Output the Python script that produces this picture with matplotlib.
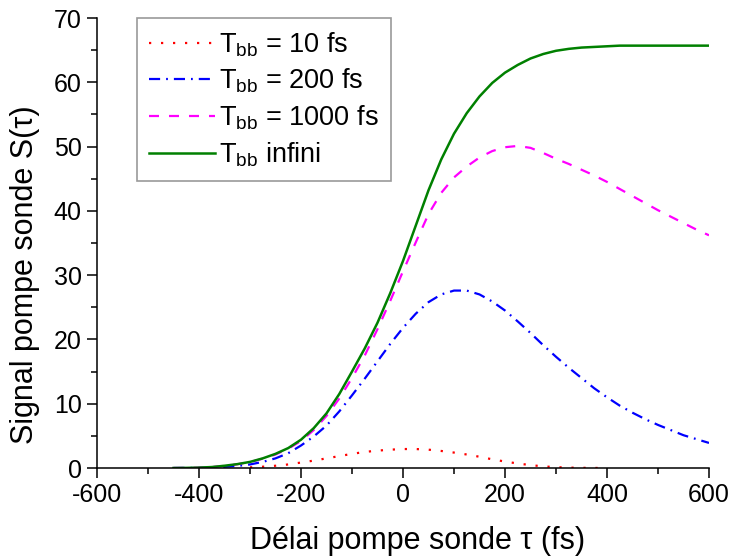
import numpy as np
import matplotlib
matplotlib.use("Agg")
import matplotlib.pyplot as plt
from matplotlib.ticker import MultipleLocator

plt.rcParams['font.family'] = ['Liberation Sans', 'DejaVu Sans']
plt.rcParams['mathtext.fontset'] = 'custom'
plt.rcParams['mathtext.rm'] = 'Liberation Sans'
plt.rcParams['mathtext.it'] = 'Liberation Sans:italic'
plt.rcParams['axes.unicode_minus'] = False

# delai pompe-sonde (fs)
tau = np.arange(-450, 601, 25)
tau_10 = np.arange(-300, 401, 25)

# signal pour T_bb = 10 fs
s_10 = [0.1, 0.2, 0.35, 0.55, 0.85, 1.15, 1.5, 1.85, 2.2, 2.5, 2.7, 2.85,
        2.95, 2.95, 2.85, 2.65, 2.4, 2.1, 1.75, 1.35, 1.0, 0.7, 0.45, 0.25,
        0.13, 0.06, 0.03, 0.01, 0.0]

# T_bb = 200 fs
s_200 = [0.0, 0.01, 0.03, 0.08, 0.18, 0.32, 0.55, 0.95, 1.5, 2.3, 3.5, 4.9,
         6.6, 8.8, 11.3, 13.9, 16.6, 19.3, 21.8, 24.0, 25.8, 27.0, 27.6, 27.6,
         27.0, 25.9, 24.5, 22.8, 21.0, 19.1, 17.3, 15.6, 14.0, 12.4, 11.0,
         9.7, 8.6, 7.6, 6.7, 5.9, 5.1, 4.5, 3.9]

# T_bb = 1000 fs
s_1000 = [0.0, 0.02, 0.06, 0.15, 0.33, 0.58, 0.92, 1.45, 2.1, 3.0, 4.2, 5.9,
          8.1, 10.8, 14.0, 17.5, 21.6, 26.0, 30.6, 35.1, 39.5, 42.8, 45.2,
          46.9, 48.3, 49.3, 49.9, 50.1, 49.8, 49.0, 48.1, 47.3, 46.4, 45.5,
          44.5, 43.4, 42.3, 41.2, 40.1, 39.1, 38.1, 37.1, 36.2]

# T_bb infini
s_inf = [0.0, 0.02, 0.06, 0.15, 0.35, 0.6, 0.95, 1.5, 2.2, 3.1, 4.4, 6.2,
         8.5, 11.5, 15.0, 18.6, 22.6, 27.2, 32.2, 37.7, 43.2, 48.0, 52.0,
         55.2, 57.8, 59.9, 61.5, 62.7, 63.7, 64.4, 64.9, 65.2, 65.4, 65.5,
         65.6, 65.7, 65.7, 65.7, 65.7, 65.7, 65.7, 65.7, 65.7]

fig = plt.figure(figsize=(7.31, 5.59), dpi=100)
ax = fig.add_axes([97/731, 1-468/559, 612/731, 450/559])

ax.plot(tau_10, s_10, color='red', linestyle=(0, (1, 4.4)), lw=1.6,
        label=r'T$_{\rm bb}$ = 10 fs')
ax.plot(tau, s_200, color='blue', linestyle=(0, (5, 2.7, 0.8, 2.7)), lw=1.6,
        label=r'T$_{\rm bb}$ = 200 fs')
ax.plot(tau, s_1000, color='magenta', linestyle=(0, (4.5, 4.5)), lw=1.6,
        label=r'T$_{\rm bb}$ = 1000 fs')
ax.plot(tau, s_inf, color='green', linestyle='-', lw=1.8,
        label=r'T$_{\rm bb}$ infini')

ax.set_xlim(-600, 600)
ax.set_ylim(0, 70)
ax.xaxis.set_major_locator(MultipleLocator(200))
ax.xaxis.set_minor_locator(MultipleLocator(100))
ax.yaxis.set_major_locator(MultipleLocator(10))
ax.yaxis.set_minor_locator(MultipleLocator(5))
ax.tick_params(which='both', direction='out', width=1.1, labelsize=18)
ax.tick_params(which='major', length=7, pad=4)
ax.tick_params(which='minor', length=4)
ax.spines['top'].set_visible(False)
ax.spines['right'].set_visible(False)
ax.spines['left'].set_linewidth(1.1)
ax.spines['bottom'].set_linewidth(1.1)

ax.set_xlabel('Délai pompe sonde τ (fs)', fontsize=22, va='center')
ax.set_ylabel('Signal pompe sonde S(τ)', fontsize=22, va='center')
ax.xaxis.set_label_coords(0.523, -0.162)
ax.yaxis.set_label_coords(-0.118, 0.429)

leg = ax.legend(loc='upper left', bbox_to_anchor=(0.065, 1.0),
                borderaxespad=0, fontsize=19.5, frameon=True, fancybox=False,
                handlelength=2.45, handletextpad=0.15, labelspacing=0.3,
                borderpad=0.45)
leg.get_frame().set_edgecolor('#808080')
leg.get_frame().set_linewidth(1.2)

fig.savefig('out.png', dpi=100)
